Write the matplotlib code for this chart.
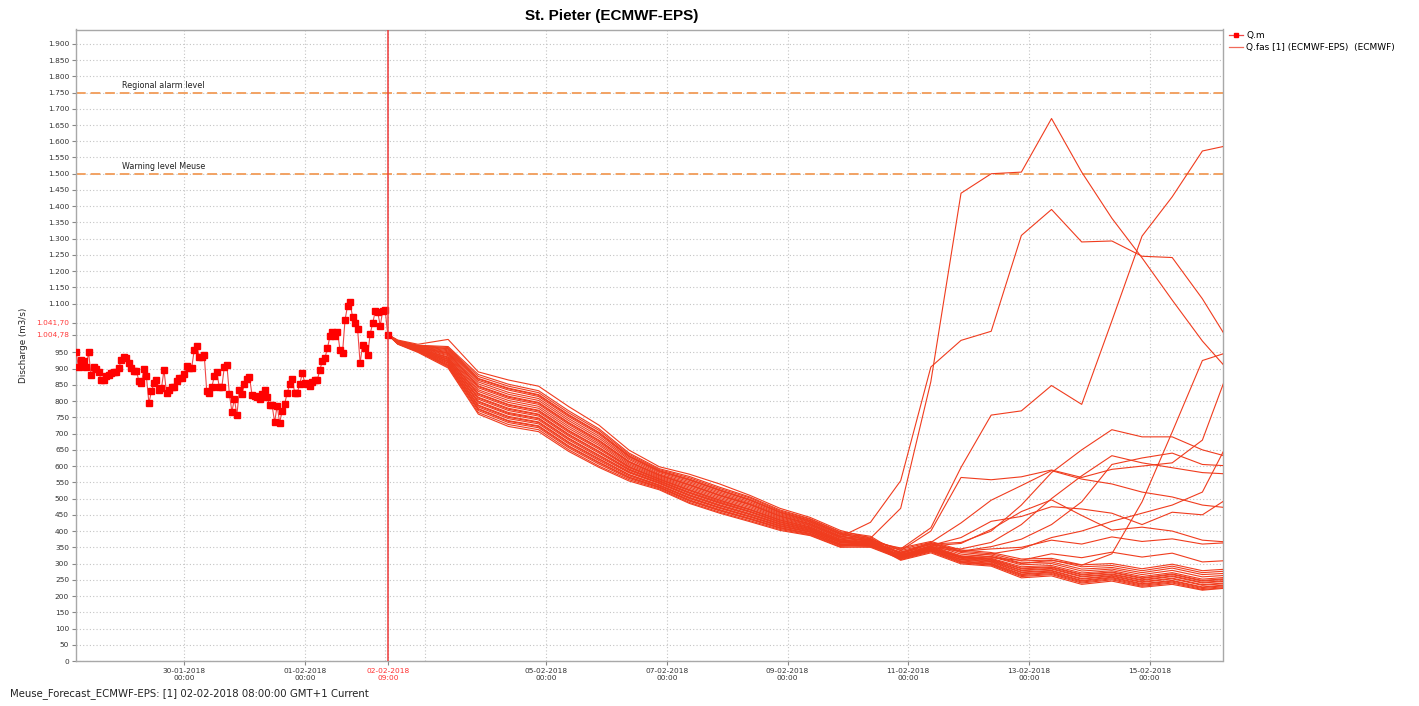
import numpy as np
import pandas as pd
import matplotlib
matplotlib.use("Agg")
import matplotlib.pyplot as plt
import matplotlib.transforms as mtransforms
from matplotlib.lines import Line2D

# ---- data ----
t0 = pd.Timestamp("2018-02-02 09:00")   # forecast time (red line)

# observed discharge Q.m, hourly, ending at t0
obs_q = [950, 905, 927, 925, 905, 950, 879, 905, 900, 889,
         866, 866, 876, 881, 886, 889, 891, 901, 927, 935,
         932, 917, 901, 894, 894, 862, 855, 898, 876, 794,
         830, 855, 866, 835, 840, 896, 825, 833, 845, 845,
         862, 870, 872, 883, 907, 901, 902, 956, 971, 937,
         937, 942, 830, 825, 843, 876, 889, 843, 843, 906,
         912, 822, 768, 806, 758, 835, 822, 852, 868, 874,
         820, 817, 814, 807, 822, 835, 814, 787, 787, 735,
         786, 734, 770, 792, 825, 852, 868, 825, 825, 853,
         886, 857, 853, 847, 860, 866, 866, 896, 925, 932,
         963, 999, 1012, 999, 1014, 958, 948, 1050, 1093, 1106,
         1058, 1040, 1022, 917, 973, 963, 942, 1007, 1040, 1076,
         1074, 1032, 1078, 1079, 1004]

# forecast lead times (hours after t0)
fc_hours = [0, 4, 12, 24, 36, 48, 60, 72, 84, 96, 108, 120, 132, 144, 156,
            168, 180, 192, 204, 216, 228, 240, 252, 264, 276, 288, 300, 312, 324, 336]

# ensemble members staying in the main recession bundle
ens_bundle = [
    [1005, 986, 972, 968, 882, 852, 832, 770, 715, 640, 592, 568, 535, 505, 465, 438, 398, 384, 328, 350, 320, 312, 284, 288, 265, 272, 254, 266, 246, 253],
    [1005, 985, 970, 962, 870, 840, 820, 758, 704, 632, 586, 560, 527, 498, 459, 433, 393, 381, 316, 340, 306, 299, 266, 272, 246, 256, 236, 246, 226, 234],
    [1005, 984, 968, 955, 859, 827, 808, 746, 692, 624, 580, 552, 520, 490, 453, 428, 389, 377, 340, 361, 334, 326, 302, 305, 283, 288, 272, 286, 266, 271],
    [1005, 983, 966, 949, 847, 815, 796, 734, 680, 615, 573, 544, 512, 483, 447, 423, 384, 374, 312, 336, 302, 295, 260, 266, 240, 250, 230, 240, 220, 228],
    [1005, 982, 964, 943, 835, 802, 784, 722, 669, 607, 567, 536, 504, 476, 441, 418, 380, 371, 332, 354, 324, 316, 290, 294, 271, 278, 260, 272, 252, 259],
    [1005, 981, 963, 940, 830, 796, 778, 716, 664, 603, 564, 532, 500, 472, 438, 416, 378, 369, 320, 343, 311, 304, 272, 277, 252, 261, 242, 253, 233, 240],
    [1005, 981, 962, 936, 824, 790, 772, 710, 658, 599, 561, 528, 496, 468, 435, 413, 375, 367, 348, 368, 342, 334, 314, 316, 296, 300, 284, 298, 278, 284],
    [1005, 980, 961, 933, 818, 784, 766, 704, 652, 595, 558, 524, 492, 465, 432, 410, 372, 366, 324, 347, 316, 308, 278, 283, 259, 266, 248, 260, 240, 247],
    [1005, 980, 960, 930, 812, 778, 760, 698, 646, 591, 555, 520, 489, 461, 429, 408, 370, 364, 318, 341, 308, 301, 268, 274, 248, 258, 238, 248, 228, 236],
    [1005, 979, 959, 927, 806, 771, 754, 692, 640, 587, 552, 516, 485, 458, 426, 405, 368, 362, 336, 358, 329, 321, 296, 300, 277, 283, 266, 279, 259, 265],
    [1005, 979, 958, 924, 800, 765, 748, 686, 634, 583, 549, 512, 481, 454, 423, 403, 366, 361, 310, 333, 299, 292, 256, 262, 236, 246, 227, 236, 218, 226],
    [1005, 978, 957, 921, 794, 759, 742, 680, 628, 579, 546, 508, 477, 450, 420, 400, 364, 359, 328, 352, 322, 314, 286, 290, 267, 274, 256, 268, 248, 255],
    [1005, 978, 956, 918, 788, 753, 736, 674, 623, 574, 542, 504, 473, 446, 417, 398, 361, 357, 322, 345, 313, 306, 274, 279, 254, 263, 244, 255, 235, 242],
    [1005, 977, 955, 914, 782, 746, 730, 668, 617, 570, 539, 500, 470, 443, 414, 396, 359, 356, 344, 365, 338, 330, 308, 311, 290, 294, 278, 292, 272, 278],
    [1005, 977, 954, 911, 777, 740, 724, 662, 612, 566, 536, 496, 466, 439, 411, 393, 357, 354, 326, 349, 318, 310, 280, 285, 261, 268, 250, 262, 242, 249],
    [1005, 976, 952, 905, 765, 728, 712, 650, 600, 558, 530, 488, 458, 432, 405, 388, 352, 350, 314, 338, 304, 297, 263, 269, 243, 253, 233, 243, 223, 231],
]

# ensemble members that leave the bundle and rise
ens_rising = [
    [1005, 988, 975, 990, 890, 865, 846, 783, 726, 649, 598, 575, 545, 510, 470, 442, 402, 378, 470, 860, 1440, 1500, 1505, 1670, 1505, 1363, 1241, 1111, 985, 880],
    [1005, 982, 965, 946, 841, 808, 790, 728, 674, 611, 570, 540, 508, 480, 444, 420, 382, 427, 555, 905, 987, 1015, 1310, 1390, 1290, 1293, 1246, 1242, 1115, 965],
    [1005, 984, 969, 958, 864, 834, 814, 752, 698, 628, 583, 556, 524, 494, 456, 430, 391, 372, 345, 410, 596, 757, 770, 848, 790, 1047, 1308, 1429, 1570, 1590],
    [1005, 977, 953, 908, 771, 734, 718, 656, 606, 562, 533, 492, 462, 436, 408, 390, 355, 360, 322, 345, 318, 322, 300, 310, 295, 330, 490, 705, 925, 955],
    [1005, 985, 971, 965, 876, 846, 826, 764, 710, 636, 589, 564, 531, 502, 462, 436, 396, 375, 340, 400, 565, 558, 567, 588, 565, 590, 600, 610, 680, 930],
    [1005, 983, 967, 952, 853, 821, 802, 740, 686, 620, 576, 548, 516, 486, 450, 426, 386, 366, 330, 360, 365, 400, 480, 580, 650, 712, 690, 690, 650, 625],
    [1005, 981, 961, 935, 822, 788, 770, 708, 656, 597, 560, 526, 495, 466, 434, 412, 374, 362, 326, 352, 345, 365, 420, 500, 570, 632, 610, 595, 580, 575],
    [1005, 980, 959, 929, 810, 775, 758, 696, 644, 589, 554, 518, 487, 460, 428, 407, 369, 360, 324, 350, 338, 352, 375, 420, 490, 605, 625, 640, 605, 600],
    [1005, 979, 958, 923, 798, 762, 746, 684, 632, 581, 548, 510, 479, 452, 422, 402, 365, 358, 322, 356, 380, 430, 445, 475, 468, 455, 420, 458, 450, 510],
    [1005, 978, 956, 917, 786, 750, 734, 672, 621, 573, 541, 502, 472, 445, 416, 397, 360, 356, 320, 354, 362, 405, 460, 496, 448, 403, 412, 400, 372, 365],
    [1005, 977, 954, 910, 775, 738, 722, 660, 610, 565, 535, 494, 464, 438, 410, 392, 356, 354, 318, 345, 320, 330, 345, 380, 400, 430, 455, 480, 520, 700],
    [1005, 983, 965, 948, 845, 812, 794, 732, 678, 613, 572, 542, 510, 482, 446, 422, 383, 368, 332, 365, 425, 495, 540, 586, 560, 545, 520, 505, 480, 470],
    [1005, 985, 970, 961, 868, 838, 818, 756, 702, 630, 585, 558, 526, 496, 458, 432, 392, 370, 334, 362, 338, 345, 350, 372, 360, 382, 368, 376, 360, 365],
    [1005, 975, 950, 902, 760, 722, 706, 645, 596, 554, 527, 485, 455, 429, 402, 386, 350, 352, 316, 340, 312, 318, 310, 330, 318, 335, 320, 332, 305, 310],
]

alarm_levels = [1750, 1500]
alarm_names = ["Regional alarm level", "Warning level Meuse"]

tick_dates = ["2018-01-30 00:00", "2018-02-01 00:00", "2018-02-02 09:00",
              "2018-02-05 00:00", "2018-02-07 00:00", "2018-02-09 00:00",
              "2018-02-11 00:00", "2018-02-13 00:00", "2018-02-15 00:00"]
extra_grid_dates = ["2018-02-02 08:00", "2018-02-03 00:00"]
y_plain = [0, 50, 100, 150, 200, 250, 300, 350, 400, 450, 500, 550, 600, 650,
           700, 750, 800, 850, 900, 950, 1100, 1150, 1200, 1250, 1300, 1350,
           1400, 1450, 1500, 1550, 1600, 1650, 1700, 1750, 1800, 1850, 1900]
marked_values = [1041.70, 1004.78]
marked_labels = ["1.041,70", "1.004,78"]

# ---- plot ----
obs_times = pd.date_range(end=t0, periods=len(obs_q), freq="h")
fc_times = t0 + pd.to_timedelta(fc_hours, unit="h")

fig = plt.figure(figsize=(14.19, 7.06), dpi=100)
ax = fig.add_axes([76 / 1419, 45 / 706, (1222.5 - 76) / 1419, (661 - 29.5) / 706])

ens_color = "#f03c1e"
for m in ens_bundle + ens_rising:
    ax.plot(fc_times, m, color=ens_color, lw=0.8, zorder=3)

ax.plot(obs_times, obs_q, color="#f04848", lw=0.8, marker="s", ms=3.8,
        mfc="#ff0000", mec="#ff0000", zorder=5)

tr = mtransforms.blended_transform_factory(ax.transAxes, ax.transData)
for lev, name in zip(alarm_levels, alarm_names):
    ax.axhline(lev, color="#f2a263", lw=1.4, dashes=(5, 2.5), zorder=2)
    ax.text(0.0401, lev + 9, name, transform=tr,
            fontsize=5.8, color="#222222", ha="left", va="bottom")

ax.axvline(t0, color="#ee3a3a", lw=1.1, zorder=6)

ax.set_xlim(pd.Timestamp("2018-01-28 05:00"), pd.Timestamp("2018-02-16 05:00"))
ax.set_ylim(0, 1944)

# y ticks: regular ticks plus the two red marked values
ax.set_yticks(y_plain + marked_values)
ax.set_yticklabels([f"{v:,}".replace(",", ".") for v in y_plain] + marked_labels)

ticks = pd.to_datetime(tick_dates)
ax.set_xticks(ticks)
ax.set_xticklabels([d.strftime("%d-%m-%Y\n%H:%M") for d in ticks])
ax.set_xticks(pd.to_datetime(extra_grid_dates), minor=True)

ax.tick_params(axis="both", which="major", labelsize=5.3, colors="#888888",
               length=3, width=0.8, pad=2)
ax.tick_params(axis="x", which="minor", length=0)

for i, lbl in enumerate(ax.get_yticklabels()):
    lbl.set_color("#ff3b3b" if i >= len(y_plain) else "#333333")
for lbl, d in zip(ax.get_xticklabels(), ticks):
    lbl.set_color("#ff3030" if d == t0 else "#333333")

ax.grid(True, which="both", color="#c4c4c4", linestyle=(0, (1, 2)), lw=0.8, zorder=0)
for s in ax.spines.values():
    s.set_color("#a8a8a8")
    s.set_linewidth(1.0)

ax.set_ylabel("Discharge (m3/s)", fontsize=6.3, color="#222222")
ax.yaxis.set_label_coords(-0.042, 0.5)

fig.text(612 / 1419, 1 - 16 / 706, "St. Pieter (ECMWF-EPS)", ha="center", va="center",
         fontsize=11, fontweight="bold", family="Liberation Sans")
fig.text(10 / 1419, 1 - 694 / 706, "Meuse_Forecast_ECMWF-EPS: [1] 02-02-2018 08:00:00 GMT+1 Current",
         ha="left", va="center", fontsize=7.3, color="#222222")

handles = [Line2D([], [], color="#f04848", lw=0.9, marker="s", ms=3, mfc="#ff0000", mec="#ff0000"),
           Line2D([], [], color="#f06a5a", lw=0.9)]
fig.legend(handles, ["Q.m", "Q.fas [1] (ECMWF-EPS)  (ECMWF)"], loc="upper left",
           bbox_to_anchor=(1229 / 1419, 1 - 31 / 706), frameon=False, fontsize=6.5,
           handlelength=1.6, handletextpad=0.3, labelspacing=0.35, borderaxespad=0,
           borderpad=0)

fig.savefig("out.png", dpi=100)
